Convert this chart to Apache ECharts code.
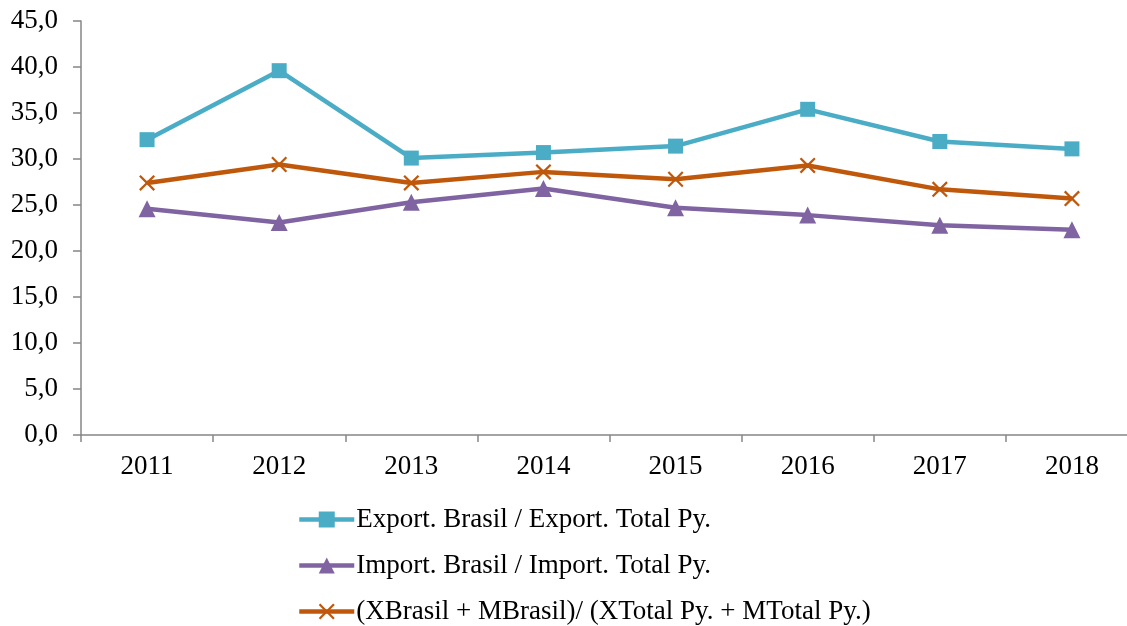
<!DOCTYPE html>
<html>
<head>
<meta charset="utf-8">
<script src="https://cdn.jsdelivr.net/npm/echarts@6/dist/echarts.min.js"></script>
<style>
  html, body { margin: 0; padding: 0; background: #fff; }
  #main { width: 1127px; height: 626px; }
</style>
</head>
<body>
<div id="main"></div>
<script>
// anos e séries
var years = ['2011', '2012', '2013', '2014', '2015', '2016', '2017', '2018'];
var exportRatio = [32.1, 39.6, 30.1, 30.7, 31.4, 35.4, 31.9, 31.1];
var importRatio = [24.6, 23.1, 25.3, 26.8, 24.7, 23.9, 22.8, 22.3];
var tradeRatio = [27.4, 29.4, 27.4, 28.6, 27.8, 29.3, 26.7, 25.7];
var seriesNames = [
  'Export. Brasil / Export. Total Py.',
  'Import. Brasil / Import. Total Py.',
  '(XBrasil + MBrasil)/ (XTotal Py. + MTotal Py.)'
];

var crossPath = 'path://M0,1L1,0L5,4L9,0L10,1L6,5L10,9L9,10L5,6L1,10L0,9L4,5Z';
var font = '"Liberation Serif", "DejaVu Serif", serif';

var myChart = echarts.init(document.getElementById('main'));
var option = {
  animation: false,
  backgroundColor: '#fff',
  textStyle: { fontFamily: font },
  grid: { left: 81, top: 21, height: 414, width: 1057, containLabel: false, outerBoundsMode: 'none' },
  legend: {
    orient: 'vertical',
    left: 297,
    top: 506,
    height: 120,
    padding: 0,
    itemWidth: 55,
    itemHeight: 20,
    itemGap: 19,
    lineStyle: { width: 4.5 },
    textStyle: { fontFamily: font, fontSize: 27, color: '#000', padding: [0, 0, 0, -3] },
    data: seriesNames
  },
  xAxis: {
    type: 'category',
    data: years,
    axisLine: { lineStyle: { color: '#868686', width: 1.5 } },
    axisTick: { show: true, length: 7, lineStyle: { color: '#868686', width: 1.5 } },
    axisLabel: { color: '#000', fontFamily: font, fontSize: 27, margin: 18 }
  },
  yAxis: {
    type: 'value',
    min: 0,
    max: 45,
    interval: 5,
    splitLine: { show: false },
    axisLine: { show: true, lineStyle: { color: '#868686', width: 1.5 } },
    axisTick: { show: true, length: 8, lineStyle: { color: '#868686', width: 1.5 } },
    axisLabel: {
      color: '#000', fontFamily: font, fontSize: 27, margin: 23,
      formatter: function (v) { return v.toFixed(1).replace('.', ','); }
    }
  },
  series: [
    {
      name: seriesNames[0],
      type: 'line',
      data: exportRatio,
      symbol: 'rect',
      symbolSize: 15,
      color: '#4BACC6',
      lineStyle: { width: 4.5, color: '#4BACC6' },
      itemStyle: { color: '#4BACC6' }
    },
    {
      name: seriesNames[1],
      type: 'line',
      data: importRatio,
      symbol: 'triangle',
      symbolSize: 17,
      color: '#8064A2',
      lineStyle: { width: 4.5, color: '#8064A2' },
      itemStyle: { color: '#8064A2' }
    },
    {
      name: seriesNames[2],
      type: 'line',
      data: tradeRatio,
      symbol: crossPath,
      symbolSize: 16,
      color: '#C0580B',
      lineStyle: { width: 4.5, color: '#C0580B' },
      itemStyle: { color: '#C0580B' }
    }
  ]
};
myChart.setOption(option);
</script>
</body>
</html>
